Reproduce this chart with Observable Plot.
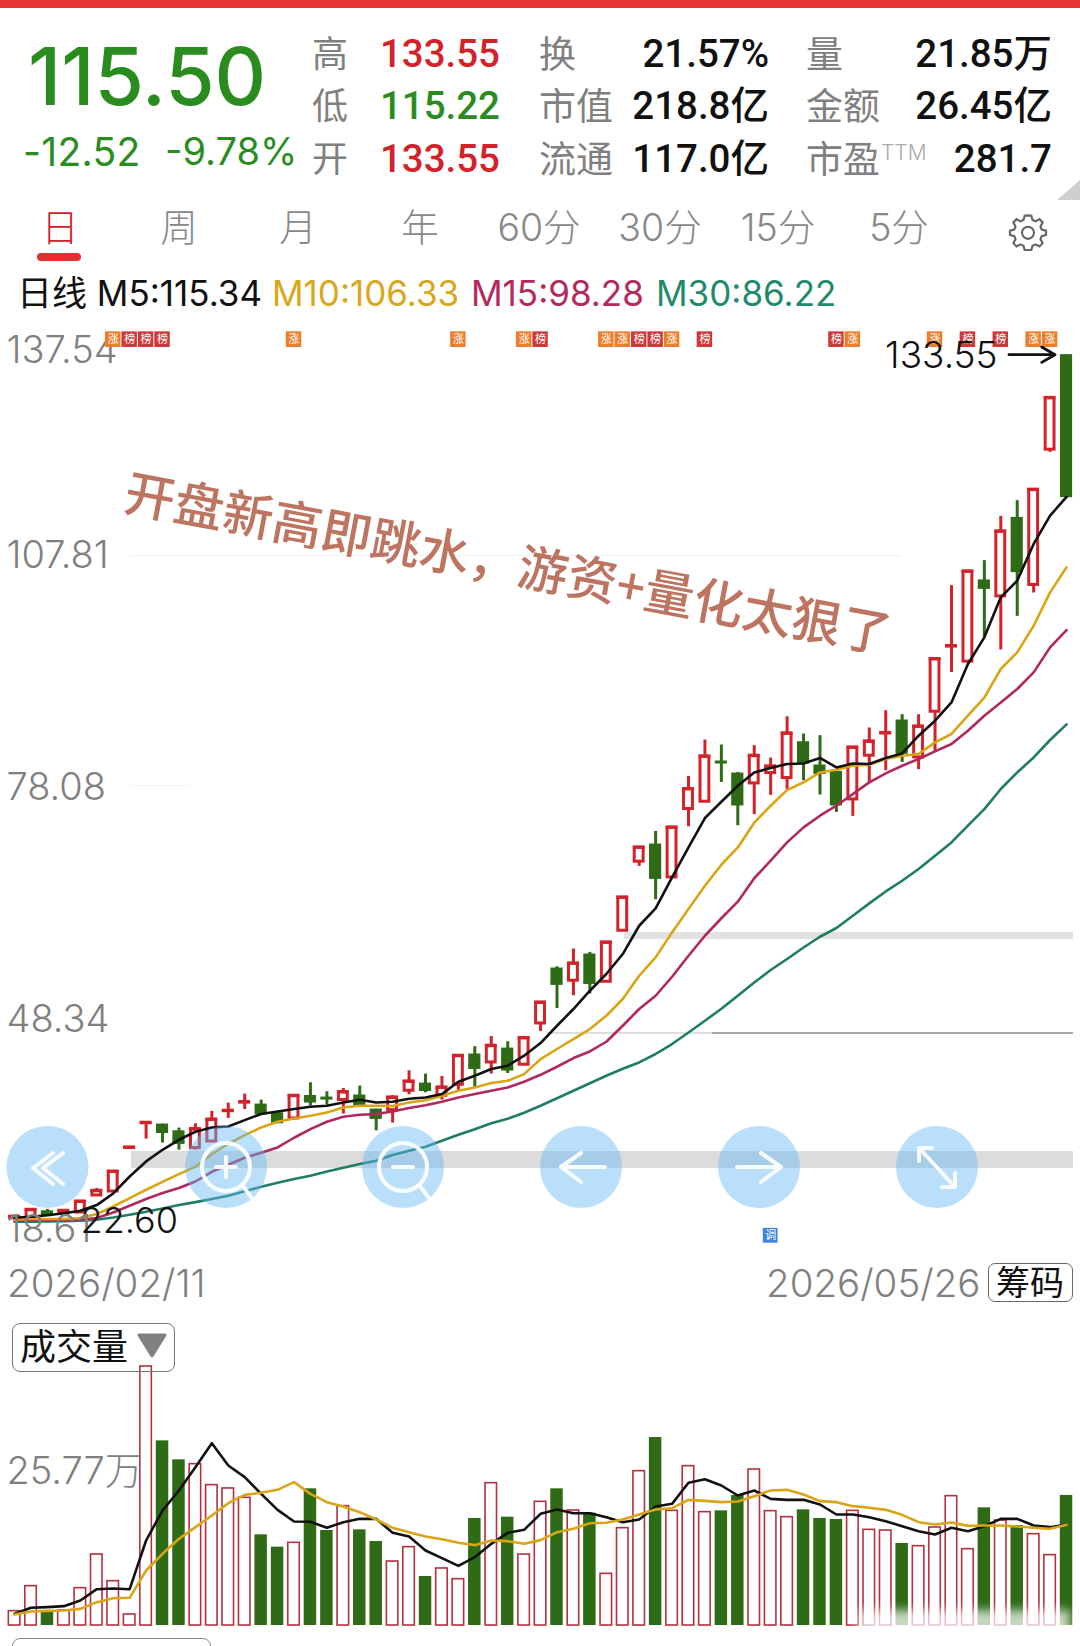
<!DOCTYPE html>
<html><head><meta charset="utf-8">
<script src="https://cdn.jsdelivr.net/npm/d3@7"></script>
<script src="https://cdn.jsdelivr.net/npm/@observablehq/plot@0.6"></script>
<style>
html,body{margin:0;padding:0;background:#fff}
#page{position:relative;width:1080px;height:1646px;overflow:hidden;background:#fff;font-family:Inter,"Noto Sans CJK SC",sans-serif;}
.t{position:absolute;white-space:nowrap;line-height:1;transform:translateY(-50%);}
.r{transform:translate(-100%,-50%);}
.c{transform:translate(-50%,-50%);}
.bg{position:absolute}
#page svg.plot{position:absolute;left:0;background:transparent;overflow:visible}
</style></head><body><div id="page"></div>
<script>
// ---------- price candles (65 trading days) ----------
const opens=[23.00,22.93,23.95,23.57,23.73,25.91,26.42,32.00,35.20,35.05,34.19,31.98,32.82,36.74,37.85,37.61,36.50,35.77,38.71,38.40,38.13,38.77,36.97,36.84,39.32,40.30,38.68,40.08,44.02,42.94,44.78,42.65,47.93,55.03,53.40,56.82,53.27,59.80,68.64,70.90,66.63,75.39,76.32,81.42,79.99,78.66,79.99,79.35,84.00,81.02,80.20,76.61,82.21,85.10,86.78,81.99,87.84,96.23,94.25,104.71,102.61,112.72,104.07,121.39,133.55];
const closes=[23.20,24.08,23.57,23.95,25.14,26.51,28.98,32.06,35.22,34.10,32.70,34.41,35.64,36.76,37.87,36.50,35.35,38.68,38.00,38.38,39.15,37.65,35.90,38.46,40.51,39.48,39.74,43.80,42.30,45.08,42.09,46.07,50.62,53.06,55.62,53.18,58.31,64.07,70.47,66.63,73.03,77.95,82.12,81.40,76.03,82.21,80.84,85.07,81.40,80.07,76.03,83.27,84.04,85.12,82.63,85.96,94.59,96.25,105.81,103.76,110.93,105.90,116.27,128.02,115.50];
const highs=[23.40,24.08,24.12,24.10,25.14,26.81,28.98,32.06,35.22,35.05,34.54,35.09,36.67,37.74,38.89,38.12,36.50,38.68,40.34,39.19,39.61,39.92,36.97,38.68,41.88,41.45,41.15,43.80,44.95,46.27,45.59,46.07,50.62,55.19,57.46,57.03,58.31,64.07,70.47,72.52,73.03,79.56,84.22,83.58,80.07,83.49,81.91,87.20,84.99,84.77,80.20,83.27,85.76,87.97,87.46,87.46,94.59,103.98,105.81,107.18,112.85,114.86,116.27,128.02,133.55];
const lows=[22.60,22.93,23.50,23.50,23.73,25.91,26.42,32.00,33.13,32.62,31.72,31.72,32.82,35.77,36.92,36.50,35.35,35.56,37.36,37.49,36.33,37.65,34.19,35.18,38.80,39.06,38.13,39.23,39.74,41.45,41.53,42.65,46.91,49.85,51.48,51.70,53.27,59.80,68.04,63.77,66.63,73.12,76.32,78.79,73.25,74.66,77.13,77.82,79.01,77.18,74.95,74.44,78.79,80.29,81.35,80.42,82.63,92.87,94.25,97.36,95.74,100.05,103.04,121.04,115.22];
// ---------- moving averages ----------
const m5=[23.06,23.18,23.38,23.63,23.95,24.68,26.17,28.34,30.27,31.76,33.04,34.07,34.62,34.75,35.56,36.33,36.67,36.97,37.27,37.40,37.82,38.16,37.82,37.91,38.29,38.46,38.89,40.47,41.24,42.10,42.52,43.80,45.42,47.64,49.78,52.12,54.26,56.82,60.44,62.66,66.63,70.47,74.23,76.32,78.37,80.07,80.63,81.15,81.22,81.92,80.71,81.22,81.15,81.92,82.50,84.77,86.69,89.03,93.95,97.36,102.48,104.62,109.32,112.94,115.34];
const m10=[22.80,22.89,22.89,22.89,23.02,23.53,24.50,25.58,26.64,27.66,28.65,29.59,31.19,32.53,33.64,34.62,35.35,35.77,36.12,36.54,37.18,37.40,37.40,37.36,37.82,38.10,38.68,39.32,39.74,40.30,40.60,41.45,43.37,44.66,45.94,47.22,48.92,51.06,54.04,56.39,59.59,62.58,65.56,68.25,70.47,73.63,75.81,77.82,78.79,80.07,80.42,80.93,81.06,81.79,82.21,82.43,83.91,84.99,87.33,89.64,93.31,95.44,98.85,103.12,106.33];
const m15=[22.67,22.67,22.71,22.71,22.80,23.02,23.73,24.59,25.45,26.22,26.86,27.70,28.94,29.84,30.74,31.38,32.06,33.30,34.41,35.35,35.99,36.24,36.33,36.67,37.10,37.46,37.91,38.46,38.89,39.32,39.74,40.47,41.36,42.39,43.50,44.35,45.59,47.64,49.78,51.48,53.91,56.60,59.16,61.40,63.52,66.52,68.77,71.11,73.03,74.53,75.81,77.31,78.79,79.94,80.93,81.79,82.76,83.71,85.41,87.33,89.03,90.75,92.88,96.08,98.28];
const m30=[22.54,22.54,22.58,22.63,22.67,22.80,23.09,23.44,23.82,24.25,24.68,25.06,25.45,25.87,26.45,27.02,27.53,28.01,28.43,28.98,29.46,29.93,30.35,31.08,31.63,32.15,32.91,33.68,34.39,35.15,35.73,36.50,37.40,38.36,39.32,40.28,41.24,42.13,42.94,44.02,45.30,46.78,48.28,49.81,51.48,53.18,54.77,56.18,57.66,59.03,60.15,61.72,63.30,64.83,66.20,67.70,69.41,71.11,73.25,75.38,77.95,80.07,81.99,84.22,86.22];
// ---------- volume (万) ----------
const volumes=[2.41,6.61,2.24,2.52,6.27,11.93,7.45,1.85,43.51,31.02,27.83,27.10,23.58,23.02,21.45,15.23,13.16,13.89,22.96,15.96,20.05,16.07,14.11,10.75,13.16,8.23,9.58,7.78,17.98,23.91,18.20,11.93,20.78,22.96,19.32,18.87,8.68,16.35,25.93,31.58,19.26,26.77,19.04,19.26,21.84,26.21,19.21,18.20,19.43,17.98,17.81,19.26,16.07,15.96,13.78,13.33,16.46,21.73,12.82,19.77,17.64,16.80,15.34,11.82,21.85];
const volUp=[1,1,0,1,1,1,1,1,1,0,0,1,1,1,1,0,0,1,0,0,1,0,0,1,1,0,1,1,0,1,0,1,1,0,1,0,1,1,1,0,1,1,1,0,0,1,1,1,0,0,0,1,1,1,0,1,1,1,1,0,1,0,1,1,0];
const vol5=[1.96,2.97,3.08,3.25,4.20,6.10,6.22,6.10,14.28,19.32,22.68,26.60,30.63,26.88,24.92,22.12,19.43,17.47,17.42,16.41,17.36,17.92,17.92,15.57,14.95,12.60,11.31,10.02,11.48,13.72,15.57,16.07,18.76,19.49,18.87,18.87,18.20,17.36,17.81,19.99,20.44,23.97,24.58,23.52,21.84,22.68,21.28,21.11,21.11,20.33,18.65,18.65,18.20,17.53,16.69,15.85,15.29,16.41,15.85,16.69,17.92,17.92,16.80,16.52,16.97];
const vol10=[1.85,2.35,2.46,2.52,2.80,3.92,4.59,4.65,9.24,12.04,14.56,16.52,18.48,20.55,21.95,22.29,22.79,24.08,22.12,20.72,19.99,19.04,17.81,16.41,15.68,14.95,14.50,13.89,13.50,14.28,14.17,13.72,14.34,15.68,16.24,17.19,17.25,17.81,18.65,19.49,19.71,21.11,20.94,20.72,20.83,21.73,22.68,22.79,22.01,20.89,20.72,20.05,19.77,19.43,18.59,17.36,16.97,17.30,16.74,16.80,16.80,16.63,16.41,16.24,16.91];
// ---------- tags, ticks ----------
const tagIdx=[6,7,8,9,17,27,31,32,36,37,38,39,40,42,50,51,56,58,60,62,63];
const tagText=["涨","榜","榜","榜","涨","涨","涨","榜","涨","涨","榜","榜","涨","榜","榜","涨","涨","榜","榜","涨","涨"];
const priceTicks=[137.54,107.81,78.08,48.34,18.61];
const volTick=25.77;
const note="开盘新高即跳水，游资+量化太狠了";
const RED="#d2232b",GREEN="#2f6b16",GRAY="#808080",FONT='Inter,"Noto Sans CJK SC",sans-serif',CJK='"Noto Sans CJK SC",sans-serif',ROB='font-family:Roboto,"Noto Sans CJK SC",sans-serif;font-weight:500;';

const page=document.getElementById("page");
function text(s,x,y,size,color,cls,extra){const d=document.createElement("div");d.className="t "+(cls||"");d.textContent=s;
  d.style.cssText+=`left:${x}px;top:${y}px;font-size:${size}px;color:${color};`+(extra||"");page.appendChild(d);return d;}
function box(x,y,w,h,css){const d=document.createElement("div");d.className="bg";d.style.cssText=`left:${x}px;top:${y}px;width:${w}px;height:${h}px;`+css;page.appendChild(d);return d;}

// --- header
box(0,0,1080,8,"background:#e53535");
text("115.50",28,76,80,"#2a8c1f","","font-weight:500;");
text("-12.52",23,151,39,"#2a8c1f","","letter-spacing:.3px;");
text("-9.78%",165,151,38,"#2a8c1f","","");
const LAB="#808080",GR="#2a8c1f",RD="#d2232b",BK="#111";
[[54,"高","133.55",RD,"换","21.57%","量","21.85万"],[106,"低","115.22",GR,"市值","218.8亿","金额","26.45亿"],[159,"开","133.55",RD,"流通","117.0亿","市盈","281.7"]].forEach(r=>{
  text(r[1],312,r[0],36,LAB);text(r[2],500,r[0],38.5,r[3],"r",ROB);
  text(r[4],539,r[0],37,LAB);text(r[5],769,r[0],38.5,BK,"r",ROB);
  text(r[6],806,r[0],37,LAB);text(r[7],1052,r[0],38.5,BK,"r",ROB);
});
text("TTM",881,152,21,"#aaa","","font-weight:300;");
page.insertAdjacentHTML("beforeend",`<svg style="position:absolute;left:1050px;top:175px" width="30" height="30"><polygon points="30,5 30,25 7,25" fill="#cfcfcf"/></svg>`);
[["日",60,"#c9242a"],["周",179,"#888"],["月",298,"#888"],["年",420,"#888"],["60分",539,"#888"],["30分",660,"#888"],["15分",778,"#888"],["5分",899,"#888"]].forEach(t=>text(t[0],t[1],228,37.5,t[2],"c","font-weight:300;"));
box(37,253,44,8,"background:#e03030;border-radius:4px");
page.insertAdjacentHTML("beforeend",`<svg style="position:absolute;left:1008px;top:212px" width="40" height="40" viewBox="0 0 24 24" fill="none" stroke="#666" stroke-width="1.3"><path d="M12 2l2 .2.7 2.6 1.8.8 2.4-1.3 1.9 2-1.3 2.4.7 1.8 2.6.7v2.6l-2.6.7-.7 1.8 1.3 2.4-1.9 2-2.4-1.3-1.8.8-.7 2.6h-4l-.7-2.6-1.8-.8-2.4 1.3-1.9-2 1.3-2.4-.7-1.8-2.6-.7v-2.6l2.6-.7.7-1.8-1.3-2.4 1.9-2 2.4 1.3 1.8-.8.7-2.6z"/><circle cx="12" cy="12.5" r="3.6"/></svg>`);
text("日线 M5:115.34",17,293,35,"#111");
text("M10:106.33",272,293,35,"#d8a71a");
text("M15:98.28",471,293,35,"#b5285e");
text("M30:86.22",656,293,35,"#1f8a6c");

// --- faint chart backdrop
box(131,1151,942,17,"background:#dcdcdc");
box(624,932,449,7,"background:#e2e2e2");
box(547,1032,165,1.5,"background:#dedede");
box(712,1032,361,1.5,"background:#a8a8a8");
box(130,555,770,1,"background:#f2f2f2");
box(130,785,60,1,"background:#f4f4f4");

// --- price chart
const candles=d3.range(closes.length).map(i=>({i,open:opens[i],close:closes[i],high:highs[i],low:lows[i]}));
const up=candles.filter(d=>d.close>=d.open),down=candles.filter(d=>d.close<d.open);
const tags=tagIdx.map((i,k)=>({i,t:tagText[k]}));
const TAG=135.47;
const lines=[[m30,"#1e7d64"],[m15,"#b0285f"],[m10,"#d9a514"],[m5,"#111"]];
const gridLabel=(vals,dy)=>Plot.text(vals,{y:d=>d,text:d=>d.toFixed(2),frameAnchor:"left",dx:6,dy,fill:GRAY,fontSize:38,fontFamily:FONT,fontWeight:300});
const price=Plot.plot({width:1080,height:1300,margin:0,
  x:{domain:[-0.858,64.85],range:[0,1080],axis:null},
  y:{domain:[18.61,137.54],range:[1252,323],axis:null},
  marks:[
    gridLabel(priceTicks.slice(1,4),0),
    gridLabel([priceTicks[0]],27),
    Plot.ruleX(up,{x:"i",y1:"low",y2:"high",stroke:RED,strokeWidth:3}),
    Plot.ruleX(down,{x:"i",y1:"low",y2:"high",stroke:GREEN,strokeWidth:3}),
    Plot.rect(up,{x1:d=>d.i-.27,x2:d=>d.i+.27,y1:"open",y2:"close",fill:"#fff",stroke:RED,strokeWidth:3}),
    Plot.ruleY(up,{y:"close",x1:d=>d.i-.36,x2:d=>d.i+.36,stroke:RED,strokeWidth:3}),
    Plot.rect(down,{x1:d=>d.i-.37,x2:d=>d.i+.37,y1:"open",y2:"close",fill:GREEN}),
    Plot.ruleY(down,{y:"close",x1:d=>d.i-.37,x2:d=>d.i+.37,stroke:GREEN,strokeWidth:3}),
    ...lines.map(([s,c])=>Plot.line(s,{x:(d,i)=>i,y:d=>d,stroke:c,strokeWidth:2.6})),
    Plot.rect(tags.filter(d=>d.t==="榜"),{x1:d=>d.i-.47,x2:d=>d.i+.47,y1:TAG-1,y2:TAG+1,fill:"#d0383a"}),
    Plot.rect(tags.filter(d=>d.t==="涨"),{x1:d=>d.i-.47,x2:d=>d.i+.47,y1:TAG-1,y2:TAG+1,fill:"#ec7d2a"}),
    Plot.text(tags,{x:"i",y:TAG,text:"t",fill:"#fff",fontSize:11,fontFamily:CJK}),
    Plot.rect([46],{x1:d=>d-.45,x2:d=>d+.45,y1:19.8,y2:21.7,fill:"#3f86d8"}),
    Plot.text([46],{x:d=>d,y:20.75,text:()=>"调",fill:"#fff",fontSize:11,fontFamily:CJK}),
    Plot.text([133.55],{x:59.8,y:d=>d,text:d=>d.toFixed(2),textAnchor:"end",fill:"#111",fontSize:37,fontFamily:FONT,fontWeight:300,dy:1}),
    Plot.arrow([133.55],{x1:60.5,x2:63.3,y1:d=>d,y2:d=>d,stroke:"#111",strokeWidth:2.8,headLength:12,insetEnd:0}),
    gridLabel([priceTicks[4]],-23),
    Plot.text([22.60],{x:0,y:d=>d,text:d=>d.toFixed(2),textAnchor:"start",dx:66,fill:"#111",fontSize:36,fontFamily:FONT,fontWeight:300}),
    Plot.text([note],{x:30,y:106.5,text:d=>d,rotate:10.6,fill:"#bd7460",fontSize:50,fontWeight:500,fontFamily:CJK})
  ]});
price.classList.add("plot");price.style.top="0";page.appendChild(price);

// --- dates
text("2026/02/11",7,1283,38.5,GRAY,"","font-weight:300;");
text("2026/05/26",766,1283,38.5,GRAY,"","font-weight:300;");
box(988,1263,85,39,"border:1.5px solid #666;border-radius:7px;box-sizing:border-box");
text("筹码",1030,1283,34,"#111","c");

// --- volume chart
const vols=volumes.map((v,i)=>({i,v,up:volUp[i]}));
const volPlot=Plot.plot({width:1080,height:286,margin:0,
  x:{domain:[-0.858,64.85],range:[0,1080],axis:null},
  y:{domain:[0,43.68],range:[265,5],axis:null},
  marks:[
    Plot.rectY(vols.filter(d=>d.up),{x1:d=>d.i-.35,x2:d=>d.i+.35,y1:0,y2:"v",fill:"#fff",stroke:"#b5303f",strokeWidth:1.6}),
    Plot.rectY(vols.filter(d=>!d.up),{x1:d=>d.i-.38,x2:d=>d.i+.38,y1:0,y2:"v",fill:GREEN}),
    Plot.text([volTick],{y:d=>d,text:d=>d+"万",frameAnchor:"left",dx:6,fill:GRAY,fontSize:38,fontFamily:FONT,fontWeight:300}),
    Plot.line(vol5,{x:(d,i)=>i,y:d=>d,stroke:"#111",strokeWidth:2.6}),
    Plot.line(vol10,{x:(d,i)=>i,y:d=>d,stroke:"#d9a514",strokeWidth:2.6})
  ]});
volPlot.classList.add("plot");volPlot.style.top="1360px";page.appendChild(volPlot);

box(12,1323,163,49,"border:1.5px solid #777;border-radius:8px;box-sizing:border-box;");
text("成交量",20,1347,36,"#111");
page.insertAdjacentHTML("beforeend",`<svg style="position:absolute;left:136px;top:1332px" width="32" height="26"><polygon points="3,3 29,3 16,24" fill="#808080" stroke="#808080" stroke-linejoin="round" stroke-width="3"/></svg>`);
box(12,1638,199,20,"border:1.5px solid #888;border-radius:8px;box-sizing:border-box;");
box(858,1610,212,34,"background:rgba(255,255,255,.72);filter:blur(5px);");

// --- floating round buttons
const W='stroke="#fff" stroke-width="4" fill="none" stroke-linecap="round" stroke-linejoin="round" opacity=".92"';
const mag=(cx,extra)=>`<circle cx="${cx}" cy="1167" r="24" ${W}/><path d="M${cx+17} 1186 L${cx+25} 1197" ${W}/><path d="${extra}" ${W}/>`;
const cs=[47.5,226,403,581,759,937].map(x=>`<circle cx="${x}" cy="1167" r="41" fill="rgba(100,185,245,.45)"/>`).join("");
page.insertAdjacentHTML("beforeend",`<svg style="position:absolute;left:0;top:0" width="1080" height="1646">${cs}
<path d="M53 1153 L33 1168 L53 1184 M63 1153 L43 1168 L63 1184" ${W}/>
${mag(226,"M216 1167 H236 M226 1157 V1177")}
${mag(403,"M393 1167 H413")}
<path d="M561 1167 H605 M581 1153 L561 1167 L581 1182" ${W}/>
<path d="M737 1167 H781 M761 1153 L781 1167 L761 1182" ${W}/>
<path d="M919 1148 L955 1187 M919 1161 V1148 H932 M955 1173 V1187 H942" ${W}/>
</svg>`);
</script></body></html>
